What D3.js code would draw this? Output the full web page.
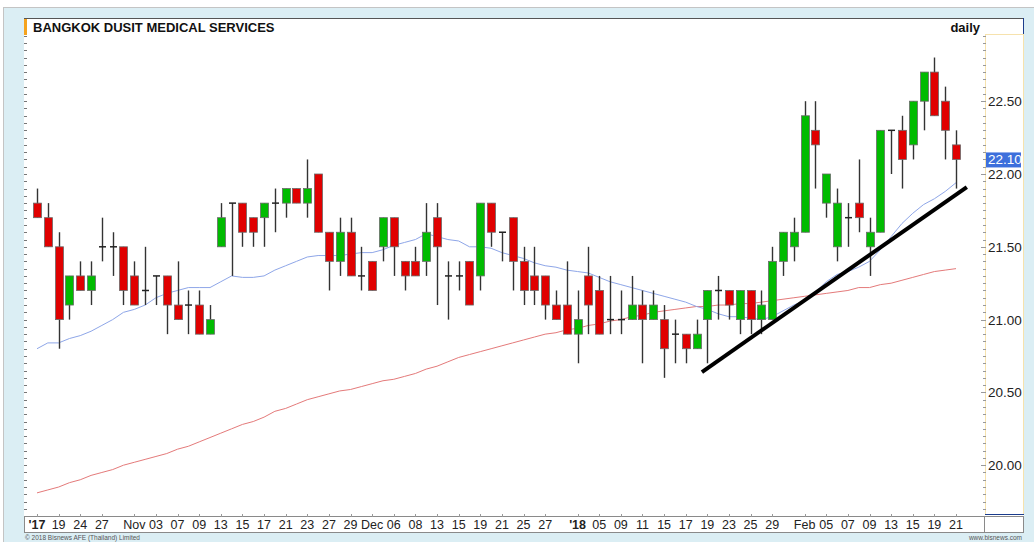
<!DOCTYPE html>
<html>
<head>
<meta charset="utf-8">
<script src="https://cdn.jsdelivr.net/npm/d3@7"></script>
<style>
  body { margin: 0; background: #fff; }
  svg { display: block; font-family: "Liberation Sans", Arial, sans-serif; }
</style>
</head>
<body>
<div id="chart"></div>
<script>
// trading days, Oct 2017 - Feb 2018
const dates = [
  "2017-10-17","2017-10-18","2017-10-19","2017-10-20","2017-10-24","2017-10-25","2017-10-27","2017-10-30","2017-10-31",
  "2017-11-01","2017-11-02","2017-11-03","2017-11-06","2017-11-07","2017-11-08","2017-11-09","2017-11-10","2017-11-13",
  "2017-11-14","2017-11-15","2017-11-16","2017-11-17","2017-11-20","2017-11-21","2017-11-22","2017-11-23","2017-11-24",
  "2017-11-27","2017-11-28","2017-11-29","2017-11-30",
  "2017-12-01","2017-12-04","2017-12-06","2017-12-07","2017-12-08","2017-12-12","2017-12-13","2017-12-14","2017-12-15",
  "2017-12-18","2017-12-19","2017-12-20","2017-12-21","2017-12-22","2017-12-25","2017-12-26","2017-12-27","2017-12-28","2017-12-29",
  "2018-01-03","2018-01-04","2018-01-05","2018-01-08","2018-01-09","2018-01-10","2018-01-11","2018-01-12","2018-01-15",
  "2018-01-16","2018-01-17","2018-01-18","2018-01-19","2018-01-22","2018-01-23","2018-01-24","2018-01-25","2018-01-26",
  "2018-01-29","2018-01-30","2018-01-31",
  "2018-02-01","2018-02-02","2018-02-05","2018-02-06","2018-02-07","2018-02-08","2018-02-09","2018-02-12","2018-02-13",
  "2018-02-14","2018-02-15","2018-02-16","2018-02-19","2018-02-20","2018-02-21"
];
const open = [
  21.8,21.7,21.5,21.1,21.3,21.2,21.5,21.5,21.5,
  21.3,21.2,21.3,21.3,21.1,21.1,21.1,20.9,21.5,
  21.8,21.8,21.7,21.7,21.8,21.8,21.9,21.8,22.0,
  21.6,21.4,21.6,21.3,
  21.4,21.5,21.7,21.4,21.4,21.4,21.7,21.3,21.3,
  21.4,21.3,21.8,21.6,21.7,21.4,21.3,21.3,21.1,21.1,
  20.9,21.3,21.2,21.0,21.0,21.0,21.1,21.0,21.0,
  20.9,20.9,20.8,21.0,21.2,21.2,21.0,21.2,21.0,
  21.0,21.4,21.5,
  21.6,22.3,21.8,21.5,21.7,21.8,21.5,21.6,22.3,
  22.3,22.2,22.5,22.7,22.5,22.2
];
const high = [
  21.9,21.8,21.6,21.3,21.4,21.4,21.7,21.6,21.5,
  21.4,21.5,21.3,21.3,21.4,21.2,21.2,21.1,21.8,
  21.8,21.8,21.7,21.8,21.9,21.9,21.9,22.1,22.0,
  21.6,21.7,21.7,21.5,
  21.4,21.7,21.7,21.4,21.5,21.8,21.8,21.4,21.4,
  21.4,21.8,21.8,21.6,21.7,21.5,21.5,21.3,21.2,21.4,
  21.2,21.5,21.3,21.3,21.2,21.3,21.2,21.2,21.1,
  21.0,20.9,21.0,21.2,21.3,21.2,21.2,21.2,21.2,
  21.5,21.6,21.7,
  22.5,22.5,22.0,21.9,21.8,22.1,21.7,22.3,22.3,
  22.4,22.5,22.7,22.8,22.6,22.3
];
const low = [
  21.7,21.5,20.8,21.0,21.2,21.1,21.4,21.3,21.1,
  21.1,21.1,21.1,20.9,21.0,20.9,20.9,20.9,21.5,
  21.3,21.5,21.5,21.5,21.6,21.7,21.8,21.7,21.6,
  21.2,21.3,21.3,21.2,
  21.2,21.4,21.3,21.2,21.3,21.3,21.1,21.0,21.2,
  21.1,21.2,21.5,21.4,21.2,21.1,21.1,21.0,21.0,20.9,
  20.7,20.9,20.9,20.9,20.9,21.0,20.7,21.0,20.6,
  20.7,20.7,20.8,20.7,21.0,21.0,20.9,20.9,20.9,
  21.0,21.3,21.4,
  21.6,21.9,21.7,21.4,21.5,21.6,21.3,21.6,22.0,
  21.9,22.1,22.3,22.4,22.1,21.9
];
const close = [
  21.7,21.5,21.0,21.3,21.2,21.3,21.5,21.5,21.2,
  21.1,21.2,21.3,21.1,21.0,21.1,20.9,21.0,21.7,
  21.8,21.6,21.6,21.8,21.8,21.9,21.8,21.9,21.6,
  21.4,21.6,21.3,21.3,
  21.2,21.7,21.5,21.3,21.3,21.6,21.5,21.3,21.3,
  21.1,21.8,21.6,21.6,21.4,21.2,21.2,21.1,21.0,20.9,
  21.0,21.1,20.9,21.0,21.0,21.1,21.0,21.1,20.8,
  20.9,20.8,20.9,21.2,21.2,21.1,21.2,21.0,21.1,
  21.4,21.6,21.6,
  22.4,22.2,22.0,21.8,21.7,21.7,21.6,22.3,22.3,
  22.1,22.5,22.7,22.4,22.3,22.1
];
// moving averages as drawn on the chart
const maShort = [
  20.80,20.84,20.84,20.87,20.89,20.92,20.96,21.00,21.05,21.07,
  21.10,21.15,21.18,21.20,21.22,21.22,21.22,21.26,21.30,21.29,
  21.29,21.30,21.34,21.37,21.40,21.43,21.44,21.44,21.44,21.45,
  21.46,21.46,21.48,21.51,21.53,21.55,21.59,21.57,21.55,21.54,
  21.50,21.50,21.49,21.46,21.44,21.42,21.39,21.37,21.36,21.34,
  21.33,21.32,21.29,21.26,21.24,21.22,21.20,21.18,21.16,21.14,
  21.12,21.09,21.07,21.04,21.02,21.02,21.01,21.00,21.02,21.06,
  21.10,21.13,21.19,21.26,21.31,21.33,21.36,21.40,21.48,21.57,
  21.66,21.73,21.79,21.83,21.88,21.94
];
const maLong = [
  19.81,19.83,19.85,19.88,19.90,19.93,19.95,19.97,20.00,20.02,
  20.04,20.06,20.08,20.11,20.13,20.16,20.19,20.22,20.25,20.28,
  20.30,20.33,20.37,20.39,20.42,20.45,20.47,20.49,20.51,20.52,
  20.54,20.56,20.58,20.59,20.61,20.63,20.66,20.68,20.71,20.74,
  20.76,20.78,20.80,20.82,20.84,20.86,20.88,20.90,20.91,20.93,
  20.94,20.96,20.97,20.99,21.00,21.02,21.03,21.05,21.06,21.07,
  21.08,21.09,21.09,21.10,21.10,21.11,21.11,21.12,21.13,21.14,
  21.15,21.16,21.17,21.18,21.19,21.20,21.22,21.22,21.24,21.25,
  21.27,21.29,21.31,21.33,21.34,21.35
];
const yTicks = [20.00, 20.50, 21.00, 21.50, 22.00, 22.50];
const xTickDates = [
  "2017-10-17","2017-10-19","2017-10-24","2017-10-27","2017-11-01","2017-11-03","2017-11-07","2017-11-09",
  "2017-11-13","2017-11-15","2017-11-17","2017-11-21","2017-11-23","2017-11-27","2017-11-29","2017-12-01",
  "2017-12-06","2017-12-08","2017-12-13","2017-12-15","2017-12-19","2017-12-21","2017-12-25","2017-12-27",
  "2018-01-03","2018-01-05","2018-01-09","2018-01-11","2018-01-15","2018-01-17","2018-01-19","2018-01-23",
  "2018-01-25","2018-01-29","2018-02-01","2018-02-05","2018-02-07","2018-02-09","2018-02-13","2018-02-15",
  "2018-02-19","2018-02-21"
];
const xTickLabels = [
  "'17","19","24","27","Nov","03","07","09","13","15","17","21","23","27","29","Dec",
  "06","08","13","15","19","21","25","27","'18","05","09","11","15","17","19","23",
  "25","29","Feb","05","07","09","13","15","19","21"
];
// hand-drawn support line: [candle position, price]
const trendPos = [61.5, 86];
const trendPrice = [20.64, 21.91];

const W = 1034, H = 542;
const plot = { left: 24, right: 985, top: 34, bottom: 514 };

const svg = d3.select("#chart").append("svg")
  .attr("width", W).attr("height", H);

// page background
svg.append("rect").attr("x", 3.5).attr("y", 7.5).attr("width", W).attr("height", H)
  .attr("fill", "#dbeef4").attr("stroke", "#c4c4c4");
svg.append("rect").attr("x", 24).attr("y", 18).attr("width", 1000).attr("height", 514)
  .attr("fill", "#fff");

const x = d3.scaleLinear().domain([0, dates.length - 1]).range([37, 956]);
const y = d3.scaleLinear().domain([20, 22]).range([465.2, 174]);

// frame lines
svg.append("line").attr("x1", 24).attr("x2", 1024).attr("y1", 18.5).attr("y2", 18.5)
  .attr("stroke", "#555");
svg.append("line").attr("x1", 1023.5).attr("x2", 1023.5).attr("y1", 18).attr("y2", 515)
  .attr("stroke", "#1c3d8c");
svg.append("rect").attr("x", 985.5).attr("y", 34.5).attr("width", 38).attr("height", 480)
  .attr("fill", "none").attr("stroke", "#f6e2ad");
svg.append("line").attr("x1", 985).attr("x2", 1024).attr("y1", 514.5).attr("y2", 514.5)
  .attr("stroke", "#1c3d8c");
svg.append("rect").attr("x", 24.5).attr("y", 516.5).attr("width", 999).attr("height", 16)
  .attr("fill", "#fff").attr("stroke", "#8a8a8a");
svg.append("line").attr("x1", 984.5).attr("x2", 984.5).attr("y1", 516).attr("y2", 533)
  .attr("stroke", "#8a8a8a");

// minor ticks every 0.05 on both sides
const minor = d3.range(0, 66).map(i => 19.70 + i * 0.05);
svg.append("g").selectAll("line").data(minor).enter().append("line")
  .attr("x1", 24).attr("x2", 27)
  .attr("y1", d => Math.round(y(d)) + 0.5).attr("y2", d => Math.round(y(d)) + 0.5)
  .attr("stroke", "#777");
svg.append("g").selectAll("line").data(minor).enter().append("line")
  .attr("x1", d => yTicks.some(t => Math.abs(t - d) < 0.001) ? 981 : 983).attr("x2", 986)
  .attr("y1", d => Math.round(y(d)) + 0.5).attr("y2", d => Math.round(y(d)) + 0.5)
  .attr("stroke", "#999");

// y axis labels
svg.append("g").selectAll("text").data(yTicks).enter().append("text")
  .attr("x", 988).attr("y", d => y(d) + 5)
  .attr("font-size", "13.5px").attr("fill", "#222")
  .text(d => d.toFixed(2));

// title
svg.append("rect").attr("x", 24).attr("y", 19).attr("width", 3).attr("height", 16).attr("fill", "#f5a31d");
svg.append("text").attr("x", 33).attr("y", 32).attr("font-size", "13px").attr("font-weight", "bold")
  .attr("fill", "#111").text("BANGKOK DUSIT MEDICAL SERVICES");
svg.append("text").attr("x", 980).attr("y", 32).attr("text-anchor", "end").attr("font-size", "13px")
  .attr("font-weight", "bold").attr("fill", "#111").text("daily");

// moving averages
const line = d3.line().x((d, i) => x(i)).y(d => y(d));
svg.append("path").datum(maLong).attr("d", line).attr("fill", "none")
  .attr("stroke", "#e47a7a").attr("stroke-width", 1);
svg.append("path").datum(maShort).attr("d", line).attr("fill", "none")
  .attr("stroke", "#8ea6e8").attr("stroke-width", 1);

// candles
const bars = dates.map((d, i) => ({ i: i, o: open[i], h: high[i], l: low[i], c: close[i] }));
const bw = 8;
const candles = svg.append("g").selectAll("g").data(bars).enter().append("g");
candles.append("line")
  .attr("x1", d => Math.round(x(d.i)) + 0.5).attr("x2", d => Math.round(x(d.i)) + 0.5)
  .attr("y1", d => y(d.h)).attr("y2", d => y(d.l))
  .attr("stroke", "#333").attr("stroke-width", 1.4);
candles.filter(d => d.o !== d.c).append("rect")
  .attr("x", d => Math.round(x(d.i)) - bw / 2 + 0.5)
  .attr("y", d => y(Math.max(d.o, d.c)))
  .attr("width", bw)
  .attr("height", d => Math.abs(y(d.o) - y(d.c)))
  .attr("fill", d => d.c > d.o ? "#00bb00" : "#e00000")
  .attr("stroke", "#6a6a6a").attr("stroke-width", 0.8);
candles.filter(d => d.o === d.c).append("line")
  .attr("x1", d => Math.round(x(d.i)) - bw / 2 + 1).attr("x2", d => Math.round(x(d.i)) + bw / 2)
  .attr("y1", d => y(d.o)).attr("y2", d => y(d.o))
  .attr("stroke", "#222").attr("stroke-width", 1.5);

// support line
svg.append("line")
  .attr("x1", x(trendPos[0])).attr("y1", y(trendPrice[0]))
  .attr("x2", x(trendPos[1])).attr("y2", y(trendPrice[1]))
  .attr("stroke", "#000").attr("stroke-width", 4);

// last price tag
const last = close[close.length - 1];
svg.append("rect").attr("x", 986).attr("y", y(last) - 7).attr("width", 35).attr("height", 15)
  .attr("fill", "#3d6fdc");
svg.append("text").attr("x", 988).attr("y", y(last) + 5).attr("font-size", "13.5px")
  .attr("fill", "#fff").text(last.toFixed(2));

// x axis labels
const xt = xTickDates.map((d, k) => ({ i: dates.indexOf(d), label: xTickLabels[k] }));
svg.append("g").selectAll("line").data(xt).enter().append("line")
  .attr("x1", d => Math.round(x(d.i)) + 0.5).attr("x2", d => Math.round(x(d.i)) + 0.5)
  .attr("y1", 514).attr("y2", 517).attr("stroke", "#999");
svg.append("g").selectAll("text").data(xt).enter().append("text")
  .attr("x", d => x(d.i)).attr("y", 529)
  .attr("text-anchor", "middle").attr("font-size", "12.5px").attr("fill", "#222")
  .attr("font-weight", d => d.label.startsWith("'") ? "bold" : "normal")
  .text(d => d.label);

// footer
svg.append("text").attr("x", 25).attr("y", 540).attr("font-size", "6.5px").attr("fill", "#555")
  .text("© 2018 Bisnews AFE (Thailand) Limited");
svg.append("text").attr("x", 1022).attr("y", 540).attr("text-anchor", "end").attr("font-size", "6.5px")
  .attr("fill", "#555").text("www.bisnews.com");
</script>
</body>
</html>
